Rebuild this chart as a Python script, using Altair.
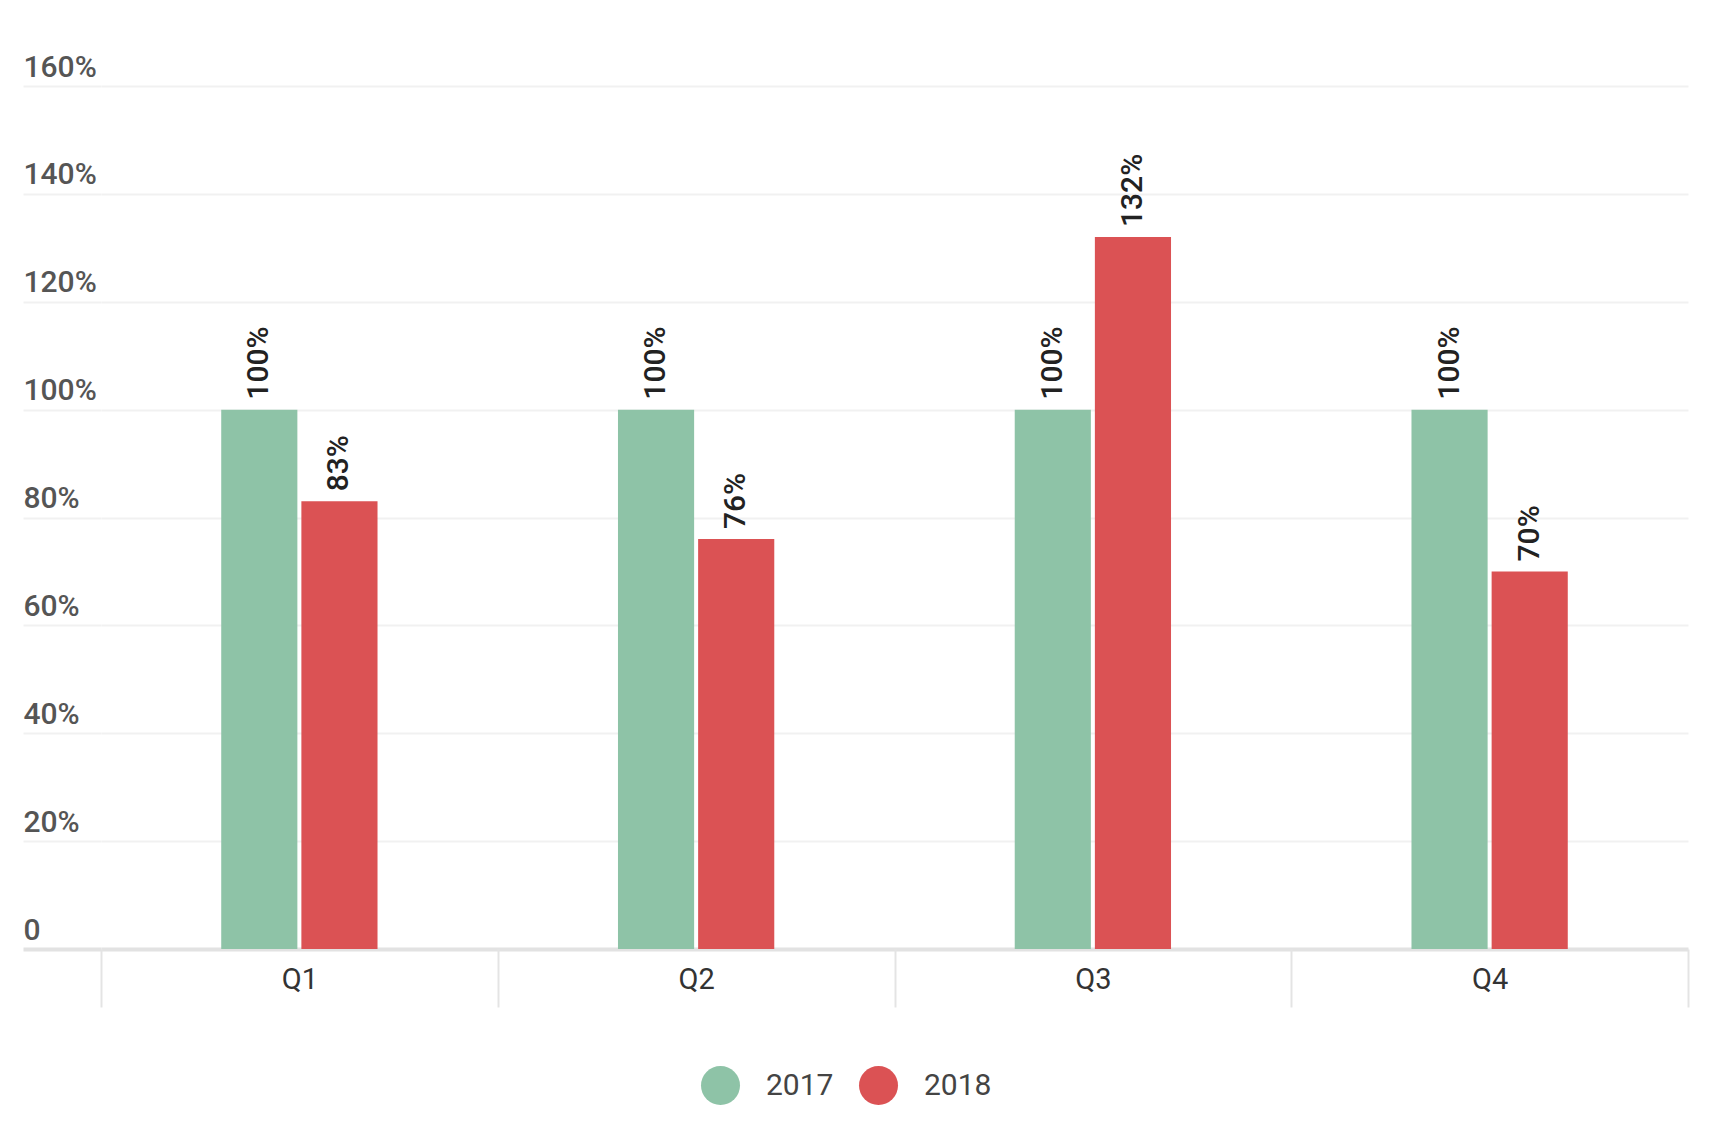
import altair as alt
import pandas as pd

quarters = ["Q1", "Q2", "Q3", "Q4"]
years = ["2017", "2018"]
values_2017 = [100, 100, 100, 100]
values_2018 = [83, 76, 132, 70]
y_ticks = [0, 20, 40, 60, 80, 100, 120, 140, 160]
colors = ["#8ec3a7", "#db5254"]

rows = []
for q, a, b in zip(quarters, values_2017, values_2018):
    rows.append({"quarter": q, "year": years[0], "value": a})
    rows.append({"quarter": q, "year": years[1], "value": b})
df = pd.DataFrame(rows)

FONT = "Roboto"
offset_domain = ["_pad_l"] + years + ["_pad_r"]

base = alt.Chart(df).transform_calculate(
    label="datum.value + '%'"
).encode(
    x=alt.X(
        "quarter:N",
        sort=quarters,
        scale=alt.Scale(paddingInner=0, paddingOuter=0),
        axis=alt.Axis(
            title=None, domain=False, grid=False, tickBand="extent",
            tickSize=58, tickColor="#e4e4e4", tickWidth=2,
            labelAngle=0, labelPadding=-42, labelBaseline="top",
            labelFontSize=29, labelFont=FONT, labelColor="#333",
        ),
    ),
    xOffset=alt.XOffset(
        "year:N",
        scale=alt.Scale(domain=offset_domain, paddingInner=0.05, paddingOuter=0.5),
    ),
    y=alt.Y(
        "value:Q",
        scale=alt.Scale(domain=[0, 160], nice=False),
        axis=alt.Axis(
            title=None, values=y_ticks, domain=False, grid=True,
            gridColor={"condition": {"test": "datum.value === 0", "value": "#e2e2e2"}, "value": "#f1f1f1"},
            gridWidth={"condition": {"test": "datum.value === 0", "value": 4}, "value": 2},
            ticks=True, tickSize=78,
            tickColor={"condition": {"test": "datum.value === 0", "value": "#e2e2e2"}, "value": "#f1f1f1"},
            tickWidth={"condition": {"test": "datum.value === 0", "value": 4}, "value": 2},
            labelAlign="left", labelBaseline="alphabetic", labelOffset=-10, labelPadding=0,
            labelExpr="datum.value === 0 ? '0' : datum.value + '%'",
            labelFontSize=30, labelFont=FONT, labelColor="#555", labelFontWeight=500,
        ),
    ),
)

bars = base.mark_bar().encode(
    color=alt.Color(
        "year:N",
        scale=alt.Scale(domain=years, range=colors),
        legend=alt.Legend(
            title=None, orient="none", legendX=600, legendY=980,
            direction="horizontal", symbolType="circle", symbolSize=1521,
            symbolStrokeWidth=0, symbolOpacity=1,
            labelFontSize=30, labelFont=FONT, labelColor="#444",
            labelOffset=26, columnPadding=25, padding=0,
        ),
    )
)

labels = base.mark_text(
    angle=270, align="left", baseline="middle", dx=10,
    font=FONT, fontSize=30, color="#222", fontWeight=500,
).encode(text=alt.Text("label:N"))

chart = alt.layer(bars, labels).properties(
    width=1587, height=863,
    padding={"left": 13, "top": 44, "right": 5, "bottom": 5},
    background="white",
).configure_view(stroke=None)

chart.save("out.html", embed_options={"renderer": "svg", "actions": False})
